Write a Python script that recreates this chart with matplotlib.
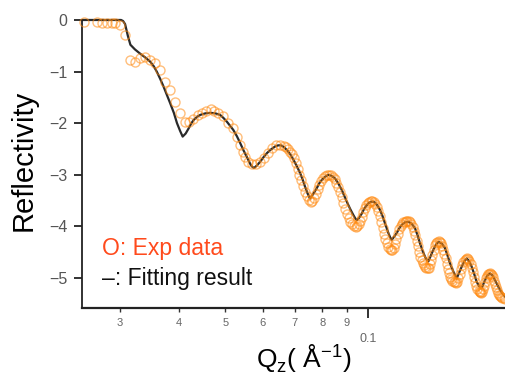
import matplotlib
matplotlib.use("Agg")
import matplotlib.pyplot as plt
from matplotlib.ticker import FixedLocator, FixedFormatter

plt.rcParams['font.family'] = ['Liberation Sans', 'DejaVu Sans']
plt.rcParams['mathtext.fontset'] = 'custom'
plt.rcParams['mathtext.rm'] = 'Liberation Sans'

# ---- data (Q in 1/Angstrom, log10 reflectivity) ----
exp_q = [0.0252, 0.02687, 0.02753, 0.02820, 0.02889, 0.02935, 0.03007, 0.03081,
         0.03157, 0.03234, 0.03313, 0.03394, 0.03477, 0.03562, 0.03649, 0.03739,
         0.03830, 0.03925, 0.04021, 0.04119, 0.04190, 0.04288, 0.04380, 0.04466,
         0.04559, 0.04661, 0.04745, 0.04839, 0.04958, 0.05079, 0.05204, 0.05290,
         0.05375, 0.05461, 0.05507, 0.05595, 0.05696, 0.05808, 0.05921, 0.06036,
         0.06154, 0.06274, 0.06397, 0.06522, 0.06649,
         0.0671, 0.0677, 0.0684, 0.0690, 0.0697, 0.0703, 0.0710, 0.0716, 0.0723,
         0.0729, 0.0736, 0.0742, 0.0749, 0.0756, 0.0762, 0.0769, 0.0776, 0.0782,
         0.0789, 0.0796, 0.0803, 0.0811, 0.0818, 0.0826, 0.0834, 0.0841, 0.0849,
         0.0856, 0.0864, 0.0871, 0.0879, 0.0886, 0.0894, 0.0901, 0.0909, 0.0916,
         0.0924, 0.0932, 0.0940, 0.0948, 0.0955, 0.0962, 0.0969, 0.0976, 0.0984,
         0.0991, 0.0998, 0.1005, 0.1013, 0.1020, 0.1028, 0.1035, 0.1043, 0.1050,
         0.1058, 0.1065, 0.1072, 0.1079, 0.1086, 0.1093, 0.1101, 0.1108, 0.1115,
         0.1122, 0.1130, 0.1137, 0.1145, 0.1153, 0.1161, 0.1169, 0.1176, 0.1184,
         0.1192, 0.1200, 0.1208, 0.1216, 0.1224, 0.1232, 0.1240, 0.1248, 0.1256,
         0.1264, 0.1272, 0.1280, 0.1287, 0.1295, 0.1302, 0.1310, 0.1317, 0.1325,
         0.1332, 0.1340, 0.1348, 0.1356, 0.1364, 0.1372, 0.1380, 0.1388, 0.1396,
         0.1405, 0.1413, 0.1421, 0.1429, 0.1437, 0.1445, 0.1453, 0.1461, 0.1470,
         0.1478, 0.1486, 0.1494, 0.1503, 0.1511, 0.1519, 0.1527, 0.1536, 0.1545,
         0.1555, 0.1564, 0.1574, 0.1583, 0.1593, 0.1602, 0.1612, 0.1621, 0.1630,
         0.1640, 0.1649, 0.1658, 0.1668, 0.1677, 0.1687, 0.1696, 0.1706, 0.1713,
         0.1720, 0.1726, 0.1733, 0.1742, 0.1751, 0.1760, 0.1769, 0.1777, 0.1786,
         0.1794, 0.1803, 0.1811, 0.1820, 0.1829, 0.1838, 0.1847, 0.1856, 0.1865,
         0.1874, 0.1883, 0.1892, 0.1901, 0.1910, 0.1924, 0.1938]
exp_r = [-0.03, -0.03, -0.05, -0.06, -0.06, -0.05, -0.10, -0.29,
         -0.78, -0.81, -0.74, -0.71, -0.78, -0.84, -0.97, -1.20,
         -1.36, -1.58, -1.81, -1.97, -1.97, -1.91, -1.84, -1.80,
         -1.76, -1.73, -1.76, -1.80, -1.87, -2.00, -2.10, -2.26,
         -2.42, -2.55, -2.65, -2.75, -2.79, -2.80, -2.76, -2.68,
         -2.58, -2.49, -2.43, -2.42, -2.45,
         -2.47, -2.50, -2.55, -2.60, -2.68, -2.78, -2.89, -3.00, -3.11,
         -3.22, -3.33, -3.42, -3.49, -3.52, -3.50, -3.45, -3.37, -3.28,
         -3.20, -3.12, -3.07, -3.03, -3.01, -3.00, -3.01, -3.04, -3.09,
         -3.15, -3.24, -3.33, -3.44, -3.55, -3.66, -3.76, -3.84, -3.91,
         -3.96, -3.99, -4.01, -4.00, -3.96, -3.90, -3.81, -3.72, -3.64,
         -3.58, -3.54, -3.52, -3.51, -3.51, -3.53, -3.56, -3.62, -3.70,
         -3.80, -3.92, -4.04, -4.15, -4.25, -4.33, -4.40, -4.44, -4.46,
         -4.46, -4.42, -4.35, -4.25, -4.15, -4.06, -3.99, -3.95, -3.92,
         -3.91, -3.90, -3.90, -3.90, -3.92, -3.95, -4.01, -4.08, -4.17,
         -4.28, -4.39, -4.50, -4.59, -4.66, -4.71, -4.75, -4.78, -4.80,
         -4.81, -4.80, -4.73, -4.65, -4.55, -4.45, -4.37, -4.32, -4.30,
         -4.29, -4.30, -4.33, -4.38, -4.45, -4.53, -4.62, -4.72, -4.83,
         -4.91, -4.98, -5.02, -5.05, -5.07, -5.08, -5.09, -5.08, -5.01,
         -4.92, -4.83, -4.75, -4.69, -4.65, -4.63, -4.62, -4.64, -4.67,
         -4.73, -4.80, -4.89, -4.98, -5.07, -5.15, -5.21, -5.25, -5.27,
         -5.28, -5.29, -5.28, -5.22, -5.15, -5.07, -5.00, -4.96, -4.93,
         -4.92, -4.91, -4.92, -4.95, -4.99, -5.05, -5.11, -5.18, -5.24,
         -5.29, -5.33, -5.35, -5.37, -5.38, -5.39, -5.40]

fit_q = [0.0250, 0.0302, 0.0305, 0.0308, 0.0312, 0.0316, 0.0323, 0.0331, 0.0340,
         0.0348, 0.0354, 0.0359, 0.0365, 0.0371, 0.0377, 0.0383, 0.0390, 0.0396,
         0.0402, 0.0407, 0.0413, 0.0419, 0.0424, 0.0429, 0.0436, 0.0443, 0.0454,
         0.0466, 0.0477, 0.0488, 0.0496, 0.0504, 0.0512, 0.0520, 0.0529, 0.0538,
         0.0546, 0.0555, 0.0561, 0.0566, 0.0571, 0.0575, 0.0583, 0.0592, 0.0602,
         0.0612, 0.0624, 0.0637, 0.0646, 0.0655, 0.0664, 0.0674, 0.0685, 0.0696,
         0.0707, 0.0719, 0.0728, 0.0736, 0.0745, 0.0754, 0.0766, 0.0779, 0.0788,
         0.0798, 0.0811, 0.0824, 0.0837, 0.0851, 0.0865, 0.0879, 0.0893, 0.0908,
         0.0919, 0.0930, 0.0938, 0.0946, 0.0957, 0.0969, 0.0980, 0.0992, 0.1004,
         0.1017, 0.1030, 0.1044, 0.1058, 0.1071, 0.1084, 0.1093, 0.1102, 0.1111,
         0.1120, 0.1133, 0.1147, 0.1161, 0.1176, 0.1195, 0.1214, 0.1234, 0.1254,
         0.1269, 0.1284, 0.1300, 0.1316, 0.1327, 0.1337, 0.1353, 0.1369, 0.1386,
         0.1403, 0.1426, 0.1449, 0.1467, 0.1485, 0.1510, 0.1534, 0.1553, 0.1572,
         0.1591, 0.1610, 0.1630, 0.1649, 0.1669, 0.1689, 0.1710, 0.1731, 0.1745,
         0.1759, 0.1780, 0.1802, 0.1824, 0.1846, 0.1869, 0.1892, 0.1915, 0.1938]
fit_r = [0.00, 0.00, -0.02, -0.08, -0.30, -0.48, -0.57, -0.65, -0.73,
         -0.81, -0.90, -1.00, -1.14, -1.29, -1.45, -1.61, -1.80, -2.00,
         -2.15, -2.26, -2.20, -2.10, -2.01, -1.94, -1.88, -1.84, -1.81,
         -1.80, -1.81, -1.84, -1.90, -1.97, -2.05, -2.13, -2.25, -2.39,
         -2.52, -2.65, -2.74, -2.81, -2.85, -2.87, -2.82, -2.75, -2.66,
         -2.58, -2.51, -2.45, -2.43, -2.43, -2.46, -2.52, -2.60, -2.71,
         -2.83, -2.97, -3.10, -3.23, -3.36, -3.46, -3.37, -3.26, -3.17,
         -3.10, -3.04, -3.00, -3.02, -3.07, -3.17, -3.29, -3.44, -3.59,
         -3.69, -3.78, -3.84, -3.88, -3.83, -3.75, -3.66, -3.59, -3.54,
         -3.52, -3.53, -3.59, -3.68, -3.80, -3.94, -4.04, -4.13, -4.21,
         -4.26, -4.20, -4.13, -4.04, -3.97, -3.92, -3.91, -3.95, -4.04,
         -4.17, -4.33, -4.47, -4.59, -4.65, -4.68, -4.57, -4.46, -4.36,
         -4.30, -4.33, -4.42, -4.56, -4.72, -4.88, -5.01, -4.89, -4.78,
         -4.68, -4.62, -4.68, -4.78, -4.92, -5.07, -5.16, -5.20, -5.12,
         -5.04, -4.95, -4.91, -4.95, -5.04, -5.14, -5.23, -5.30, -5.36]

y_ticks = [0, -1, -2, -3, -4, -5]
x_minor_ticks = [0.03, 0.04, 0.05, 0.06, 0.07, 0.08, 0.09]
x_minor_labels = ['3', '4', '5', '6', '7', '8', '9']
x_major_ticks = [0.1]
x_major_labels = ['0.1']

# ---- figure ----
W, H = 505, 383
fig = plt.figure(figsize=(W / 100, H / 100), dpi=100)
ax = fig.add_axes([82 / W, 1 - 307.9 / H, 1 - 82 / W, 290.5 / H])

ax.plot(fit_q, fit_r, color='#2a2a2a', lw=1.6, zorder=2, solid_joinstyle='round')
ax.plot(exp_q, exp_r, linestyle='none', marker='o', ms=6.5, mfc='none',
        mec='#ff8a10', mew=1.0, alpha=0.55, zorder=3, clip_on=False)

ax.set_xscale('log')
ax.set_xlim(0.0250, 0.1938)
ax.set_ylim(-5.58, 0.05)

for s in ['top', 'right']:
    ax.spines[s].set_visible(False)
ax.spines['left'].set_bounds(-5.58, 0)
ax.spines['left'].set_linewidth(1.3)
ax.spines['left'].set_color('#222222')
ax.spines['bottom'].set_linewidth(1.6)
ax.spines['bottom'].set_color('#222222')

ax.yaxis.set_major_locator(FixedLocator(y_ticks))
ax.tick_params(axis='y', which='major', length=6, width=1.3, color='#222222',
               labelsize=11.5, labelcolor='#555555', pad=4.5)

ax.xaxis.set_major_locator(FixedLocator(x_major_ticks))
ax.xaxis.set_major_formatter(FixedFormatter(x_major_labels))
ax.xaxis.set_minor_locator(FixedLocator(x_minor_ticks))
ax.xaxis.set_minor_formatter(FixedFormatter(x_minor_labels))
ax.tick_params(axis='x', which='major', length=7, width=1.3, color='#222222',
               labelsize=9, labelcolor='#666666', pad=11)
ax.tick_params(axis='x', which='minor', length=3, width=1.0, color='#333333',
               labelsize=8, labelcolor='#666666', pad=4)

ax.set_ylabel('Reflectivity', fontsize=21)
ax.yaxis.set_label_coords((24 - 82) / (W - 82), (307.9 - 160) / 290.5)
ax.yaxis.label.set_va('center')
ax.set_xlabel(r'Q$_\mathregular{z}$( Å$^\mathregular{ -1}$)', fontsize=19)
ax.xaxis.set_label_coords((304 - 82) / (W - 82), -(359 - 307.9) / 290.5)
ax.xaxis.label.set_va('center')

fig.text(102 / W, 1 - 248 / H, 'O: Exp data', color='#ff4a1c', fontsize=16.5,
         va='center', ha='left')
fig.text(102 / W, 1 - 278 / H, '–: Fitting result', color='#111111', fontsize=16.5,
         va='center', ha='left')

fig.savefig('out.png', dpi=100)
